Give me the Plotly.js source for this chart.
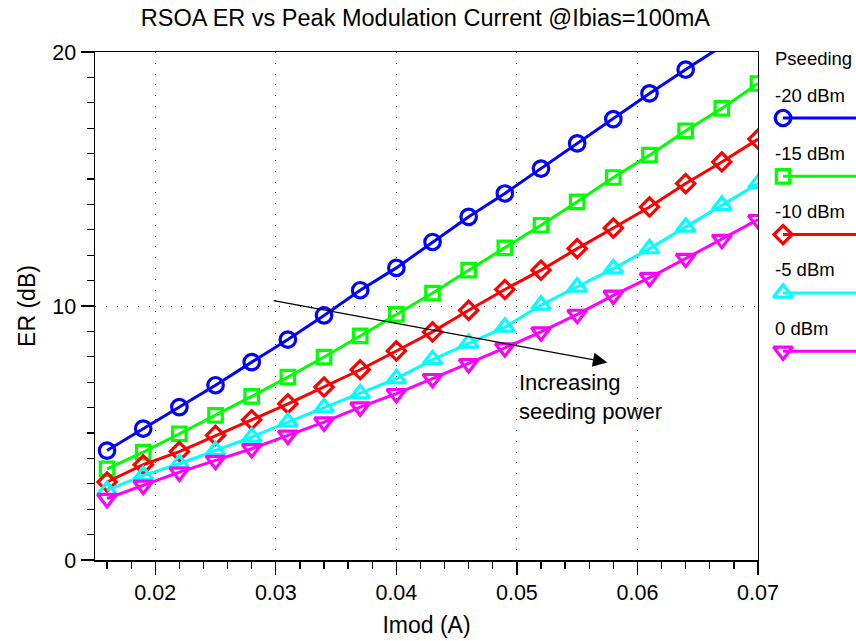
<!DOCTYPE html>
<html>
<head>
<meta charset="utf-8">
<script src="https://cdn.plot.ly/plotly-3.0.1.min.js"></script>
<style>html,body{margin:0;padding:0;background:#fff;}#chart{width:856px;height:641px;}</style>
</head>
<body>
<div id="chart"></div>
<script>
// ---- data ----
const imod = [0.016, 0.019, 0.022, 0.025, 0.028, 0.031, 0.034, 0.037, 0.040, 0.043,
              0.046, 0.049, 0.052, 0.055, 0.058, 0.061, 0.064, 0.067, 0.070];
const erM20 = [4.31, 5.17, 6.02, 6.88, 7.79, 8.68, 9.63, 10.62, 11.50, 12.52,
               13.51, 14.43, 15.41, 16.40, 17.36, 18.37, 19.31, 20.22, 21.15];
const erM15 = [3.59, 4.25, 4.97, 5.69, 6.44, 7.20, 7.99, 8.82, 9.67, 10.51,
               11.41, 12.29, 13.18, 14.10, 15.06, 15.94, 16.90, 17.78, 18.76];
const erM10 = [3.07, 3.75, 4.27, 4.91, 5.52, 6.15, 6.81, 7.49, 8.23, 8.98,
               9.83, 10.65, 11.41, 12.26, 13.07, 13.90, 14.82, 15.67, 16.57];
const erM5  = [2.74, 3.33, 3.79, 4.31, 4.84, 5.43, 6.00, 6.55, 7.14, 7.89,
               8.54, 9.17, 10.04, 10.75, 11.47, 12.26, 13.11, 13.97, 14.82];
const er0   = [2.42, 2.94, 3.46, 3.92, 4.38, 4.91, 5.43, 6.02, 6.55, 7.14,
               7.73, 8.35, 8.98, 9.67, 10.42, 11.12, 11.87, 12.62, 13.40];
const seriesNames = ['-20 dBm', '-15 dBm', '-10 dBm', '-5 dBm', '0 dBm'];
const seriesValues = [erM20, erM15, erM10, erM5, er0];
const xTickVals = [0.02, 0.03, 0.04, 0.05, 0.06, 0.07];
const xTickText = ['0.02', '0.03', '0.04', '0.05', '0.06', '0.07'];
const yTickVals = [0, 10, 20];
const yTickText = ['0', '10', '20'];
const legendTitle = 'Pseeding';
const arrowText = 'Increasing<br>seeding power';

// ---- styles ----
const colors = ['#0000ff', '#00ff00', '#ff0000', '#00ffff', '#ff00ff'];
const symbols = ['circle-open', 'square-open', 'diamond-open', 'triangle-up-open', 'triangle-down-open'];
const sizes = [15.5, 13.5, 14, 16.5, 16.5];
const YMAX = 20;
const FONT = 'Liberation Sans, Arial, sans-serif';

const traces = [];
seriesValues.forEach((vals, i) => {
  traces.push({
    x: imod, y: vals, type: 'scatter', mode: 'lines+markers',
    name: seriesNames[i], showlegend: false,
    line: {color: colors[i], width: 3},
    marker: {symbol: symbols[i], size: vals.map(v => v <= YMAX ? sizes[i] : 0),
             color: colors[i], opacity: 1, line: {color: colors[i], width: 3.2}},
    xaxis: 'x', yaxis: 'y'
  });
});

// manual legend (symbol line under each label), drawn on a helper axis
const LEG_X0 = 0, LEG_MK = 10, LEG_X1 = 83;
const legLineY = i => 66 + i * 58.3;
seriesNames.forEach((n, i) => {
  traces.push({
    x: [LEG_MK, LEG_X1], y: [legLineY(i), legLineY(i)], type: 'scatter', mode: 'lines+markers',
    showlegend: false, hoverinfo: 'skip', cliponaxis: false,
    line: {color: colors[i], width: 3},
    marker: {symbol: symbols[i], size: [sizes[i], 0], color: colors[i], opacity: 1,
             line: {color: colors[i], width: 3.2}},
    xaxis: 'x2', yaxis: 'y2'
  });
});

const annotations = [
  {xref: 'x', yref: 'y', axref: 'x', ayref: 'y',
   x: 0.0575, y: 7.78, ax: 0.0297, ay: 10.22,
   showarrow: true, arrowhead: 2, arrowsize: 2.4, arrowwidth: 1.2, arrowcolor: '#000', text: ''},
  {xref: 'x', yref: 'y', x: 0.0500, y: 6.40, xanchor: 'left', yanchor: 'middle', align: 'left',
   text: arrowText, showarrow: false, font: {family: FONT, size: 22, color: '#000'}},
  {xref: 'x2', yref: 'y2', x: LEG_X0, y: 6, xanchor: 'left', yanchor: 'middle',
   text: legendTitle, showarrow: false, font: {family: FONT, size: 18.5, color: '#000'}}
];
seriesNames.forEach((n, i) => {
  annotations.push({xref: 'x2', yref: 'y2', x: LEG_X0, y: legLineY(i) - 23,
    xanchor: 'left', yanchor: 'middle', text: n, showarrow: false,
    font: {family: FONT, size: 18.5, color: '#000'}});
});

const axisCommon = {
  showline: true, linecolor: '#000', linewidth: 1.5, mirror: true,
  ticks: 'outside', ticklen: 13, tickwidth: 1.3, tickcolor: '#000',
  showgrid: true, gridcolor: '#000', gridwidth: 1, griddash: '1px,9.8px',
  zeroline: false, tickfont: {family: FONT, size: 21.5, color: '#000'}
};

const layout = {
  width: 856, height: 641,
  margin: {l: 95, r: 0, t: 52, b: 81},
  paper_bgcolor: '#fff', plot_bgcolor: '#fff',
  font: {family: FONT, color: '#000'},
  title: {text: 'RSOA ER vs Peak Modulation Current @Ibias=100mA',
          font: {family: FONT, size: 23.5, color: '#000'},
          xref: 'container', x: 0.497, xanchor: 'center',
          yref: 'container', y: 0.972, yanchor: 'middle'},
  xaxis: Object.assign({}, axisCommon, {
    domain: [0, 0.8712], range: [0.015, 0.07],
    tickmode: 'array', tickvals: xTickVals, ticktext: xTickText,
    minor: {tickmode: 'linear', tick0: 0, dtick: 0.002, ticks: 'outside', ticklen: 7,
            tickwidth: 1.3, tickcolor: '#000', showgrid: false},
    title: {text: 'Imod (A)', font: {family: FONT, size: 23, color: '#000'}, standoff: 12}
  }),
  yaxis: Object.assign({}, axisCommon, {
    domain: [0, 1], range: [0, 20],
    tickmode: 'array', tickvals: yTickVals, ticktext: yTickText,
    minor: {tickmode: 'linear', tick0: 0, dtick: 1, ticks: 'outside', ticklen: 7,
            tickwidth: 1.3, tickcolor: '#000', showgrid: false},
    title: {text: 'ER (dB)', font: {family: FONT, size: 23, color: '#000'}, standoff: 10}
  }),
  xaxis2: {domain: [0.891, 1], range: [0, 83], visible: false, fixedrange: true, anchor: 'y2'},
  yaxis2: {domain: [0, 1], range: [508, 0], visible: false, fixedrange: true, anchor: 'x2'},
  annotations: annotations,
  showlegend: false
};

Plotly.newPlot('chart', traces, layout, {displayModeBar: false, staticPlot: true});
</script>
</body>
</html>
